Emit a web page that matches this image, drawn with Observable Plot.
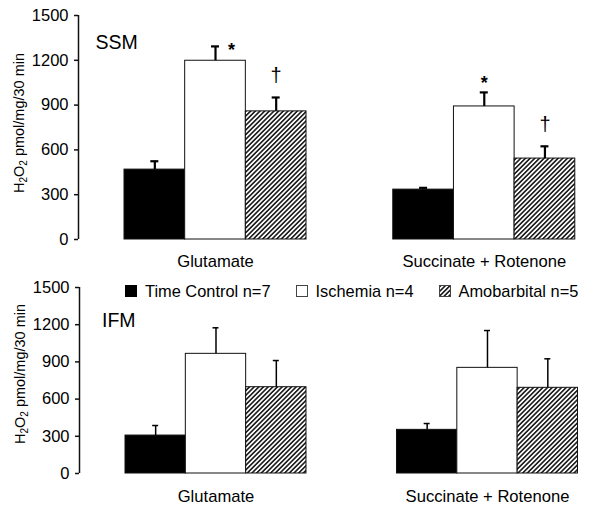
<!DOCTYPE html>
<html>
<head>
<meta charset="utf-8">
<script src="https://cdn.jsdelivr.net/npm/d3@7"></script>
<script src="https://cdn.jsdelivr.net/npm/@observablehq/plot@0.6"></script>
<style>
  body { margin: 0; background: #fff; }
  #chart { position: relative; width: 602px; height: 518px; font-family: "Liberation Sans", Arial, sans-serif; color: #000; }
  #top, #bottom { position: absolute; left: 0; }
  #top { top: 0; }
  #bottom { top: 270px; }
  #legend { position: absolute; left: 125px; top: 283px; display: flex; align-items: center; font-size: 16.4px; line-height: 16px; white-space: nowrap; }
  .item { display: flex; align-items: center; margin-right: 25px; }
  .sw { width: 12px; height: 12px; margin-right: 8px; box-sizing: border-box; display: block; }
</style>
</head>
<body>
<svg width="0" height="0" style="position:absolute">
  <defs>
    <pattern id="hatch" patternUnits="userSpaceOnUse" width="3.3" height="3.3" patternTransform="rotate(45)">
      <rect width="3.3" height="3.3" fill="#fff"></rect>
      <line x1="1.65" y1="-1" x2="1.65" y2="4.3" stroke="#000" stroke-width="1.45"></line>
    </pattern>
  </defs>
</svg>
<div id="chart">
  <div id="top"></div>
  <div id="bottom"></div>
  <div id="legend"></div>
</div>
<script>
// ---- data ----
const categories = ["Glutamate", "Succinate + Rotenone"];
const groups = ["Time Control n=7", "Ischemia n=4", "Amobarbital n=5"];
const yTicks = [0, 300, 600, 900, 1200, 1500];
const yLabelParts = [["H", false], ["2", true], ["O", false], ["2", true], [" pmol/mg/30 min", false]];

const ssmGlutamate = [468, 1197, 858];
const ssmGlutamateSE = [56, 96, 93];
const ssmSuccinate = [334, 891, 542];
const ssmSuccinateSE = [12, 94, 82];
const ssmGlutamateSig = ["", "*", "†"];
const ssmSuccinateSig = ["", "*", "†"];

const ifmGlutamate = [306, 965, 696];
const ifmGlutamateSE = [81, 210, 215];
const ifmSuccinate = [352, 852, 691];
const ifmSuccinateSE = [51, 301, 234];
const ifmGlutamateSig = ["", "", ""];
const ifmSuccinateSig = ["", "", ""];

// ---- styles ----
const fills = ["#000", "#fff", "url(#hatch)"];

function buildRows(meansByCat, seByCat, sigByCat) {
  const rows = [];
  categories.forEach((c, gi) => groups.forEach((g, bi) => {
    rows.push({category: c, group: g, gi, bi, mean: meansByCat[gi][bi], se: seByCat[gi][bi], sig: sigByCat[gi][bi]});
  }));
  return rows;
}

function panel(cfg) {
  const {rows, height, marginTop, marginBottom, axisX, barStart, unit, G, name, nameDx, nameDy,
         stemW, capPx, catDy, labelX, labelY} = cfg;
  const marginRight = 20;
  const xDomain = [(axisX - barStart) / unit, (602 - marginRight - barStart) / unit];
  const left = d => d.gi * G + d.bi;
  const mid = d => left(d) + 0.5;
  const capHalf = capPx / unit;
  const marks = [];
  groups.forEach((g, bi) => {
    marks.push(Plot.rectY(rows.filter(r => r.bi === bi), {
      x1: left, x2: d => left(d) + 1, y1: 0, y2: "mean",
      fill: fills[bi], stroke: "#111", strokeWidth: 1
    }));
  });
  marks.push(
    Plot.ruleX(rows, {x: mid, y1: "mean", y2: d => d.mean + d.se, stroke: "#000", strokeWidth: stemW}),
    Plot.ruleY(rows, {y: d => d.mean + d.se, x1: d => mid(d) - capHalf, x2: d => mid(d) + capHalf, stroke: "#000", strokeWidth: stemW}),
    Plot.ruleX([xDomain[0]], {y1: yTicks[0], y2: yTicks[yTicks.length - 1], stroke: "#111", strokeWidth: 1.5}),
    Plot.axisY({ticks: yTicks, tickFormat: d => String(d), tickSize: 4, tickPadding: 6, fontSize: 16.5, label: null, stroke: "#111", strokeWidth: 1.5, fill: "#000"}),
    Plot.text(categories, {x: (c, i) => i * G + 1.5, text: d => d, frameAnchor: "bottom", lineAnchor: "top", dy: catDy, fontSize: 16.6, fill: "#000"}),
    Plot.text([name], {frameAnchor: "top-left", textAnchor: "start", lineAnchor: "bottom", dx: nameDx, dy: nameDy, fontSize: 19.5, fill: "#000"}),
    // significance markers
    Plot.text(rows.filter(r => r.sig === "*" && r.category === categories[0]), {x: mid, y: d => d.mean + d.se, text: "sig", dx: 16, dy: 10, lineAnchor: "bottom", fontSize: 18, fontWeight: "bold", fill: "#000"}),
    Plot.text(rows.filter(r => r.sig === "*" && r.category !== categories[0]), {x: mid, y: d => d.mean + d.se, text: "sig", dy: -3, lineAnchor: "bottom", fontSize: 18, fontWeight: "bold", fill: "#000"}),
    Plot.text(rows.filter(r => r.sig === "†"), {x: mid, y: d => d.mean + d.se, text: "sig", dy: -15.5, lineAnchor: "bottom", fontSize: 20, fill: "#000"})
  );
  const svg = Plot.plot({
    width: 602, height, marginTop, marginBottom, marginLeft: axisX, marginRight,
    x: {domain: xDomain, axis: null},
    y: {domain: [yTicks[0], yTicks[yTicks.length - 1]], axis: null},
    style: {fontFamily: '"Liberation Sans", Arial, sans-serif', fontSize: "16px", background: "#fff", color: "#000", overflow: "visible"},
    marks
  });
  // rotated y label with subscripts
  const t = d3.select(svg).append("text")
    .attr("transform", `translate(${labelX},${labelY}) rotate(-90)`)
    .attr("text-anchor", "middle")
    .attr("font-size", 14.5)
    .attr("fill", "#000");
  yLabelParts.forEach(([s, sub], i) => {
    const prevSub = i > 0 && yLabelParts[i - 1][1];
    const ts = t.append("tspan").text(s);
    if (sub) ts.attr("font-size", 10).attr("dy", prevSub ? 0 : 3);
    else if (prevSub) ts.attr("dy", -3);
  });
  return svg;
}

document.getElementById("top").appendChild(panel({
  rows: buildRows([ssmGlutamate, ssmSuccinate], [ssmGlutamateSE, ssmSuccinateSE], [ssmGlutamateSig, ssmSuccinateSig]),
  height: 270, marginTop: 15, marginBottom: 31, axisX: 78, barStart: 124, unit: 60.67, G: 4.43,
  name: "SSM", nameDx: 17, nameDy: 33, stemW: 2.2, capPx: 4, catDy: 16, labelX: 24, labelY: 123
}));
document.getElementById("bottom").appendChild(panel({
  rows: buildRows([ifmGlutamate, ifmSuccinate], [ifmGlutamateSE, ifmSuccinateSE], [ifmGlutamateSig, ifmSuccinateSig]),
  height: 248, marginTop: 17, marginBottom: 45, axisX: 79, barStart: 125, unit: 60.33, G: 4.5,
  name: "IFM", nameDx: 22.5, nameDy: 39, stemW: 1.5, capPx: 3, catDy: 16.3, labelX: 25, labelY: 104
}));

// legend
const legend = d3.select("#legend");
groups.forEach((g, i) => {
  const item = legend.append("div").attr("class", "item");
  const sw = item.append("svg").attr("class", "sw").attr("width", 12).attr("height", 12);
  sw.append("rect").attr("x", 0.5).attr("y", 0.5).attr("width", 11).attr("height", 11)
    .attr("fill", fills[i]).attr("stroke", i === 0 ? "#000" : "#444").attr("stroke-width", 1);
  item.append("span").text(g);
});
</script>
</body>
</html>
